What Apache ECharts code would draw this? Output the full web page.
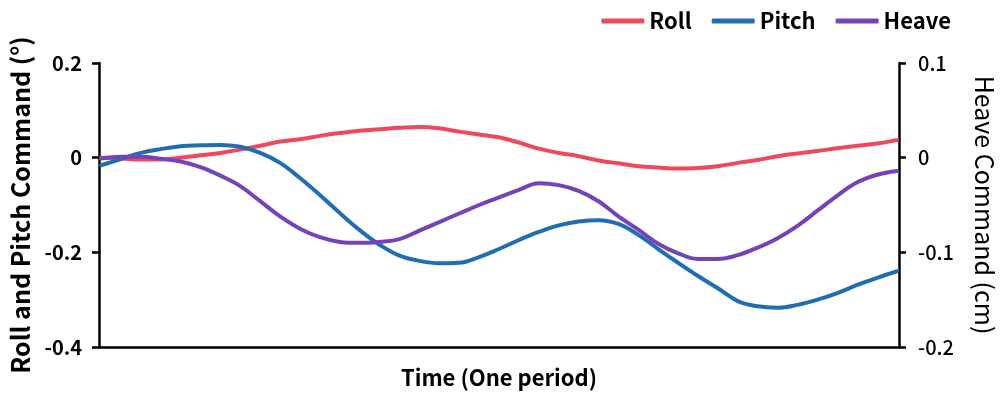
<!DOCTYPE html>
<html>
<head>
<meta charset="utf-8">
<script src="https://cdn.jsdelivr.net/npm/echarts@6/dist/echarts.min.js"></script>
<style>
  html, body { margin: 0; padding: 0; background: #fff; }
  #chart { width: 1005px; height: 396px; }
</style>
</head>
<body>
<div id="chart"></div>
<script>
// Time across one period (0..100 %), sampled every 2.5 %
const time = [];
for (let i = 0; i <= 40; i++) time.push(i * 2.5);

// Roll command (deg), left axis
const roll = [
  0.000, -0.002, -0.004, -0.004, 0.000, 0.005, 0.010, 0.017, 0.025, 0.034,
  0.039, 0.046, 0.052, 0.057, 0.060, 0.063, 0.065, 0.062, 0.055, 0.049,
  0.043, 0.032, 0.019, 0.010, 0.003, -0.006, -0.012, -0.018, -0.021, -0.023,
  -0.022, -0.018, -0.011, -0.005, 0.003, 0.009, 0.014, 0.020, 0.025, 0.030,
  0.037
];

// Pitch command (deg), left axis
const pitch = [
  -0.016, -0.003, 0.010, 0.018, 0.024, 0.026, 0.027, 0.023, 0.010, -0.011,
  -0.043, -0.079, -0.117, -0.153, -0.184, -0.207, -0.218, -0.223, -0.222, -0.210,
  -0.193, -0.174, -0.157, -0.143, -0.135, -0.132, -0.140, -0.163, -0.193, -0.222,
  -0.250, -0.276, -0.303, -0.314, -0.317, -0.311, -0.300, -0.286, -0.269, -0.254,
  -0.240
];

// Heave command (cm), right axis
const heave = [
  -0.001, 0.001, 0.001, -0.001, -0.004, -0.010, -0.019, -0.030, -0.046, -0.062,
  -0.075, -0.084, -0.089, -0.090, -0.089, -0.086, -0.077, -0.068, -0.059, -0.050,
  -0.042, -0.034, -0.027, -0.029, -0.035, -0.046, -0.062, -0.076, -0.091, -0.101,
  -0.107, -0.107, -0.103, -0.095, -0.085, -0.072, -0.056, -0.040, -0.026, -0.018,
  -0.014
];

const seriesNames = ['Roll', 'Pitch', 'Heave'];
const colors = ['#EF475D', '#1F6EB4', '#7443B9'];

const pairs = arr => arr.map((v, i) => [time[i], v]);
const FONT = '"Noto Sans CJK KR", "Noto Sans", sans-serif';
const fmt = v => (Math.abs(v) < 1e-9 ? '0' : String(Math.round(v * 10) / 10));

const chart = echarts.init(document.getElementById('chart'), null, { renderer: 'canvas' });

const axisLine = { show: true, onZero: false, lineStyle: { color: '#000', width: 2.5 } };
const tick = { show: true, length: 7, lineStyle: { color: '#000', width: 2.5 } };

chart.setOption({
  animation: false,
  textStyle: { fontFamily: FONT },
  color: colors,
  legend: {
    top: 5,
    right: 49,
    itemWidth: 43,
    itemHeight: 5,
    itemGap: 20,
    icon: 'roundRect',
    textStyle: { fontFamily: FONT, fontSize: 22, fontWeight: 'bold', color: '#000' },
    data: seriesNames
  },
  grid: { left: 98, right: 103, top: 63, bottom: 49 },
  xAxis: {
    type: 'value',
    min: -0.25,
    max: 100.25,
    name: 'Time (One period)',
    nameLocation: 'middle',
    nameGap: 20,
    nameTextStyle: { fontFamily: FONT, fontSize: 22, fontWeight: 'bold', color: '#000' },
    axisLine: axisLine,
    axisTick: { show: false },
    axisLabel: { show: false },
    splitLine: { show: false }
  },
  yAxis: [
    {
      type: 'value',
      position: 'left',
      min: -0.4,
      max: 0.2,
      interval: 0.2,
      name: 'Roll and Pitch Command (°)',
      nameLocation: 'middle',
      nameRotate: 90,
      nameGap: 66,
      nameTextStyle: { fontFamily: FONT, fontSize: 25, fontWeight: 'bold', color: '#000' },
      axisLine: axisLine,
      axisTick: tick,
      axisLabel: { margin: 17, fontSize: 20, fontWeight: 'bold', color: '#000', fontFamily: FONT, formatter: fmt },
      splitLine: { show: false }
    },
    {
      type: 'value',
      position: 'right',
      min: -0.2,
      max: 0.1,
      interval: 0.1,
      name: 'Heave Command (cm)',
      nameLocation: 'middle',
      nameRotate: -90,
      nameGap: 73,
      nameTextStyle: { fontFamily: FONT, fontSize: 25, color: '#000' },
      axisLine: axisLine,
      axisTick: tick,
      axisLabel: { margin: 19, fontSize: 20, fontWeight: 500, color: '#000', fontFamily: FONT, formatter: fmt },
      splitLine: { show: false }
    }
  ],
  series: [
    {
      name: seriesNames[0], type: 'line', yAxisIndex: 0, data: pairs(roll),
      smooth: 0.4, showSymbol: false, symbol: 'none',
      lineStyle: { width: 4, color: colors[0], cap: 'round' }
    },
    {
      name: seriesNames[1], type: 'line', yAxisIndex: 0, data: pairs(pitch),
      smooth: 0.4, showSymbol: false, symbol: 'none',
      lineStyle: { width: 4, color: colors[1], cap: 'round' }
    },
    {
      name: seriesNames[2], type: 'line', yAxisIndex: 1, data: pairs(heave),
      smooth: 0.4, showSymbol: false, symbol: 'none',
      lineStyle: { width: 4, color: colors[2], cap: 'round' }
    }
  ]
});
</script>
</body>
</html>
